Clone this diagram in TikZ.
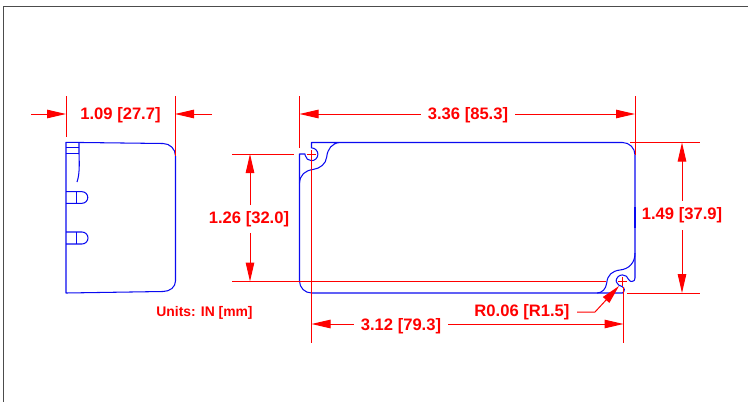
\documentclass[tikz,border=0pt]{standalone}
\usepackage{fontspec}
\setmainfont{Liberation Sans}
\usetikzlibrary{arrows.meta}
\definecolor{dimred}{RGB}{255,0,0}
\definecolor{partblue}{RGB}{10,10,240}
\tikzset{
  part/.style={draw=partblue,line width=1.05pt,line join=round},
  thickpart/.style={draw=partblue,line width=1.7pt},
  extline/.style={draw=dimred,line width=1pt},
  dimline/.style={draw=dimred,line width=1pt,-{Triangle[length=19pt,width=8.5pt,fill=dimred]}},
  dimtext/.style={text=dimred,font=\bfseries\fontsize{16.6}{17}\selectfont,inner sep=0pt,inner xsep=7pt},
  noteText/.style={text=dimred,font=\bfseries\fontsize{13.9}{14}\selectfont,inner sep=0pt}
}
\begin{document}
\begin{tikzpicture}[x=1pt,y=-1pt]
\useasboundingbox (0,0) rectangle (748,402);
% page frame
\draw[draw=black!70,line width=1.1pt] (3.5,402) -- (3.5,6.5) -- (748,6.5);

% side view
\draw[part] (66,142.3) -- (163,143.5) .. controls (170,143.5) and (175.5,149) .. (175.5,156) -- (175.5,281)
  .. controls (175.5,287) and (170,291.5) .. (163,291.5) -- (66,293) -- cycle;
\draw[part] (66,147.7) -- (79,147.7);
\draw[part] (66,153.8) -- (79,153.8);
\draw[part] (79,142.5) -- (79,153.8) .. controls (79.5,165) and (79.5,175) .. (77,182);
\draw[part] (66,191.7) -- (82,191.7) arc[start angle=-90,end angle=90,radius=5.8] -- (66,203.3);
\draw[part] (76.5,191.7) -- (76.5,203.3);
\draw[part] (66,232) -- (82,232) arc[start angle=-90,end angle=90,radius=6] -- (66,244);
\draw[part] (76.5,232) -- (76.5,244);

% front view
\draw[part] (311.5,148) -- (311.5,142.5) -- (340,142.5) .. controls (332,143) and (327.5,149) .. (326.7,157)
  .. controls (326,164) and (320,168.5) .. (313,169.5) .. controls (305,170.5) and (300,175) .. (299.5,183)
  -- (299.5,281) arc[start angle=180,end angle=90,radius=12] -- (597,293)
  .. controls (602,293) and (606,289) .. (606.7,283) .. controls (607.5,275) and (612,271) .. (620,270)
  .. controls (629,269) and (635,263) .. (635,253) -- (635,155)
  arc[start angle=0,end angle=-90,radius=12.5] -- (340,142.5);
% corner holes
\draw[part] (311.5,147.9) arc[start angle=-90,end angle=170,radius=6.4] -- (305,154) -- (299.5,154) -- (299.5,183);
\draw[part] (616.1,281.3) arc[start angle=180,end angle=345,radius=6.4]
  .. controls (630,281.5) and (631,281.5) .. (632,281.5)
  .. controls (634,281.5) and (635,280) .. (635,278) -- (635,253);
\draw[part] (616.1,281.3) .. controls (618,285) and (620,286.5) .. (622,286.5) .. controls (625,288) and (625,291) .. (622.5,293) -- (597,293);
\draw[thickpart] (299.5,191) -- (299.5,203);
\draw[thickpart] (299.5,232) -- (299.5,244);
\draw[thickpart] (635,207) -- (635,228);

% dimension labels
\node[dimtext] (d109) at (120.5,115.5) {1.09 [27.7]};
\node[dimtext] (d336) at (468,115.5) {3.36 [85.3]};
\node[dimtext,inner xsep=0pt,inner ysep=6pt] (d126) at (249,219) {1.26 [32.0]};
\node[dimtext,inner xsep=0pt,inner ysep=7pt] (d149) at (682,215.5) {1.49 [37.9]};
\node[dimtext] (d312) at (401,326) {3.12 [79.3]};
\node[dimtext,inner xsep=0pt] (r006) at (522,312.5) {R0.06 [R1.5]};
\node[noteText] (units) at (204.5,313) {Units: IN [mm]};

% anchors
\coordinate (sideL) at (66,114);
\coordinate (sideR) at (175,114);
\coordinate (sideLout) at (31,114);
\coordinate (sideRout) at (212,114);
\coordinate (frontL) at (299.5,114);
\coordinate (frontR) at (635,114);
\coordinate (h1) at (250,154);
\coordinate (h2) at (250,281.5);
\coordinate (v1) at (682,142.5);
\coordinate (v2) at (682,293);
\coordinate (b1) at (311.5,324);
\coordinate (b2) at (623.5,324);
\coordinate (lead1) at (577,312);
\coordinate (lead2) at (595,312);
\coordinate (leadtip) at (619,286);

% extension lines
\draw[extline] (66,96) -- (66,137);
\draw[extline] (175.5,96) -- (175.5,156);
\draw[extline] (299.5,96) -- (299.5,148);
\draw[extline] (635,96) -- (635,155);
\draw[extline] (232,154.3) -- (294,154.3);
\draw[extline] (232,281.3) -- (606,281.3);
\draw[extline] (630,142.5) -- (700,142.5);
\draw[extline] (627,293) -- (700,293);
\draw[extline] (311.5,161) -- (311.5,343);
\draw[extline] (623.5,287) -- (623.5,343);
% centre marks
\draw[extline] (307,154.3) -- (316,154.3);
\draw[extline] (311.5,150) -- (311.5,161);
\draw[extline] (618,281.3) -- (627,281.3);
\draw[extline] (622.5,277) -- (622.5,286);

% dimension lines
\draw[dimline] (sideLout) -- (sideL);
\draw[dimline] (sideRout) -- (sideR);
\draw[dimline] (d336.west |- frontL) -- (frontL);
\draw[dimline] (d336.east |- frontL) -- (frontR);
\draw[dimline] (d126.north -| h1) -- (h1);
\draw[dimline] (d126.south -| h1) -- (h2);
\draw[dimline] (d149.north -| v1) -- (v1);
\draw[dimline] (d149.south -| v1) -- (v2);
\draw[dimline] (d312.west |- b1) -- (b1);
\draw[dimline] (d312.east |- b1) -- (b2);
\draw[dimline] (lead1) -- (lead2) -- (leadtip);
\end{tikzpicture}
\end{document}
